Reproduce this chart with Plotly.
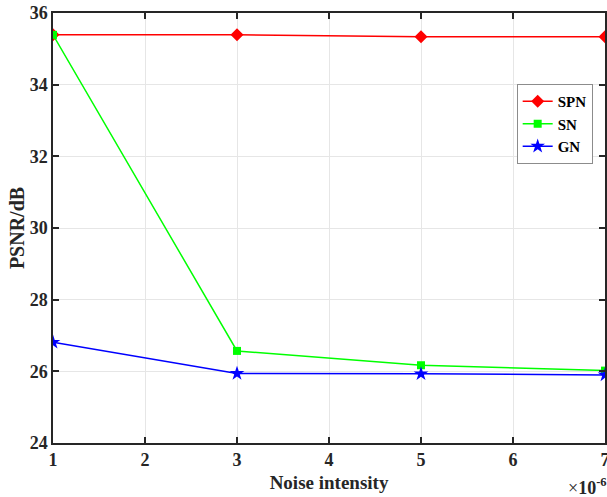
import plotly.graph_objects as go

# Noise intensity (x 1e-6) and PSNR values per noise type
noise = [1, 3, 5, 7]
psnr_spn = [35.39, 35.39, 35.34, 35.34]
psnr_sn = [35.39, 26.57, 26.17, 26.02]
psnr_gn = [26.81, 25.94, 25.93, 25.90]

x_ticks = [1, 2, 3, 4, 5, 6, 7]
y_ticks = [24, 26, 28, 30, 32, 34, 36]

FONT = "Liberation Serif, Times New Roman, serif"

fig = go.Figure()
fig.add_trace(go.Scatter(x=noise, y=psnr_spn, name="<b>SPN</b>", mode="lines+markers",
                         line=dict(color="#ff0000", width=1.5),
                         marker=dict(symbol="diamond", size=10, color="#ff0000")))
fig.add_trace(go.Scatter(x=noise, y=psnr_sn, name="<b>SN</b>", mode="lines+markers",
                         line=dict(color="#00ff00", width=1.5),
                         marker=dict(symbol="square", size=8, color="#00ff00")))
fig.add_trace(go.Scatter(x=noise, y=psnr_gn, name="<b>GN</b>", mode="lines+markers",
                         line=dict(color="#0000ff", width=1.5),
                         marker=dict(symbol="star", size=11, color="#0000ff")))

axis_common = dict(
    showline=True, linecolor="#262626", linewidth=1.5, mirror="allticks",
    ticks="inside", ticklen=6, tickcolor="#262626", tickwidth=1.5,
    showgrid=True, gridcolor="#e6e6e6", gridwidth=1, zeroline=False,
    ticklabeloverflow="allow",
    tickfont=dict(family=FONT, size=18, color="#262626"),
)

fig.update_xaxes(range=[1, 7], tickvals=x_ticks, ticktext=[f"<b>{v}</b>" for v in x_ticks],
                 automargin="bottom",
                 title=dict(text="<b>Noise intensity</b>", font=dict(family=FONT, size=19, color="#262626"),
                            standoff=6),
                 **axis_common)
fig.update_yaxes(range=[24, 36], tickvals=y_ticks, ticktext=[f"<b>{v}</b>" for v in y_ticks],
                 automargin="left",
                 title=dict(text="<b>PSNR/dB</b>", font=dict(family=FONT, size=20, color="#262626"),
                            standoff=0),
                 **axis_common)

fig.add_annotation(xref="paper", yref="paper", x=1.0, y=0, xanchor="right", yanchor="top",
                   yshift=-30, xshift=4, showarrow=False,
                   text="×<b>10<sup>-6</sup></b>", font=dict(family=FONT, size=18, color="#262626"))

fig.update_layout(
    width=607, height=497,
    margin=dict(l=53, r=2, t=13, b=54),
    paper_bgcolor="white", plot_bgcolor="white",
    font=dict(family=FONT, color="#262626"),
    legend=dict(x=0.84, y=0.835, xanchor="left", yanchor="top",
                bgcolor="white", bordercolor="#8c8c8c", borderwidth=1,
                font=dict(family=FONT, size=15, color="#000000"),
                itemwidth=30, tracegroupgap=0),
    showlegend=True,
)

fig.write_html("out.html")
